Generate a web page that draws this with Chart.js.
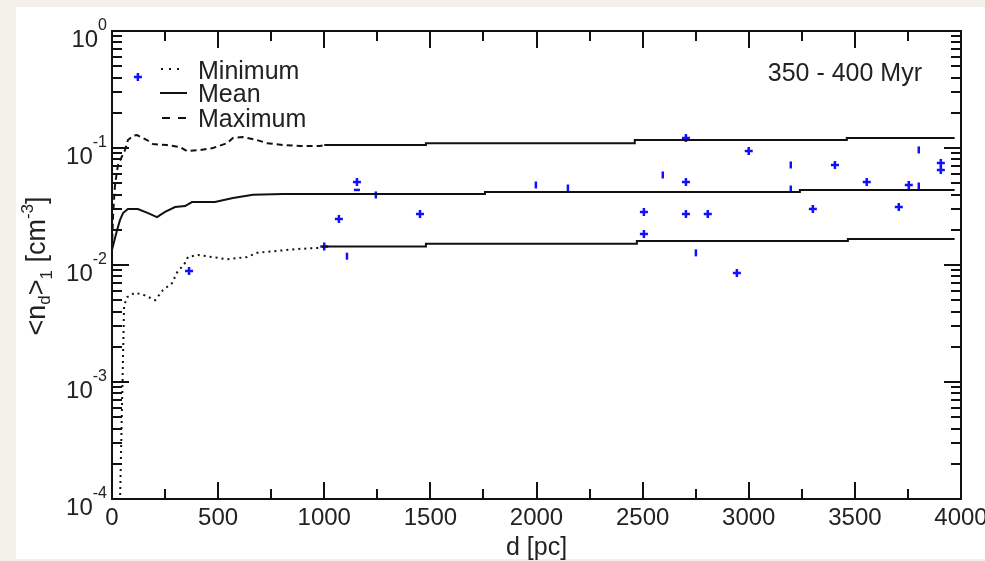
<!DOCTYPE html>
<html>
<head>
<meta charset="utf-8">
<script src="https://cdn.jsdelivr.net/npm/chart.js@4"></script>
<style>
  html, body { margin: 0; padding: 0; background: #f3f0ea; }
  canvas { display: block; }
</style>
</head>
<body>
<canvas id="grafico" width="985" height="561"></canvas>
<script>
// ── DATOS ─────────────────────────────────────────────────

// distancia d [pc] y densidad <n_d>_1 [cm^-3] de las tres curvas
const minD  = [0, 38, 57, 71, 108, 155, 203, 240, 283, 306, 344, 358, 405, 471, 542, 636, 683, 777, 871, 980, 1000, 1479, 1479, 2473, 2473, 3467, 3467, 3970];
const minN  = [0.00008, 0.0001, 0.0045, 0.0053, 0.0058, 0.0055, 0.0050, 0.0061, 0.0070, 0.0086, 0.0104, 0.0117, 0.0122, 0.0117, 0.0112, 0.0117, 0.0127, 0.0132, 0.0137, 0.0140, 0.0144, 0.0144, 0.0152, 0.0152, 0.0160, 0.0160, 0.0167, 0.0167];

const meanD = [0, 24, 38, 52, 75, 122, 170, 212, 250, 297, 344, 377, 485, 570, 664, 805, 1757, 1757, 3241, 3241, 3970];
const meanN = [0.0135, 0.0199, 0.0243, 0.0278, 0.0301, 0.0301, 0.0278, 0.0257, 0.0284, 0.0313, 0.0319, 0.0345, 0.0345, 0.0374, 0.0398, 0.0404, 0.0404, 0.0421, 0.0421, 0.0438, 0.0438];

const maxD  = [0, 5, 14, 28, 61, 75, 99, 118, 165, 193, 259, 320, 353, 415, 476, 542, 570, 617, 683, 730, 806, 886, 980, 1000, 1479, 1479, 2463, 2463, 3462, 3462, 3970];
const maxN  = [0.0135, 0.0267, 0.048, 0.0716, 0.096, 0.117, 0.127, 0.129, 0.117, 0.108, 0.106, 0.102, 0.094, 0.096, 0.100, 0.110, 0.122, 0.124, 0.117, 0.110, 0.106, 0.104, 0.104, 0.106, 0.106, 0.110, 0.110, 0.117, 0.117, 0.122, 0.122];

// estrellas (marcas "+")
const crossD = [122, 363, 1000, 1069, 1154, 1451, 2506, 2506, 2704, 2704, 2704, 2807, 2944, 3000, 3302, 3406, 3556, 3707, 3754, 3905, 3905];
const crossN = [0.404, 0.0089, 0.0144, 0.0247, 0.0512, 0.0273, 0.0284, 0.0184, 0.1217, 0.0512, 0.0273, 0.0273, 0.00855, 0.0942, 0.0301, 0.0716, 0.0512, 0.0313, 0.0483, 0.0744, 0.0649];

// estrellas (marcas "|")
const barD = [1107, 1243, 1997, 2148, 2595, 2751, 3198, 3198, 3801, 3801];
const barN = [0.0119, 0.0397, 0.0483, 0.0455, 0.0588, 0.0127, 0.0716, 0.0446, 0.0962, 0.0473];

// marca "-"
const dashD = [1154];
const dashN = [0.0438];

// ejes
const xTicks = [0, 500, 1000, 1500, 2000, 2500, 3000, 3500, 4000];
const yTickExps = [0, -1, -2, -3, -4];
const legendLabels = ["Minimum", "Mean", "Maximum"];
const etiquetaEdad = "350 - 400 Myr";

// ── GRAFICO ───────────────────────────────────────────────

const FONT = '"Liberation Sans", Arial, sans-serif';
const AZUL = "#1010ff";
const NEGRO = "#111";

const pares = (xs, ys) => xs.map((x, i) => ({ x, y: ys[i] }));

function textoRico(ctx, partes, x, y, align) {
  let total = 0;
  partes.forEach(p => {
    ctx.font = p.size + "px " + FONT;
    p.w = ctx.measureText(p.t).width;
    total += p.w;
  });
  let cx = align === "right" ? x - total : align === "center" ? x - total / 2 : x;
  ctx.textAlign = "left";
  partes.forEach(p => {
    ctx.font = p.size + "px " + FONT;
    ctx.fillText(p.t, cx, y + (p.dy || 0));
    cx += p.w;
  });
}

const marcoPlugin = {
  id: "marco",
  beforeDraw(chart) {
    const ctx = chart.ctx;
    ctx.save();
    ctx.fillStyle = "#ffffff";
    ctx.fillRect(16, 7, 985 - 16, 559 - 7);
    ctx.restore();
  },
  afterDraw(chart) {
    const ctx = chart.ctx;
    const { left, right, top, bottom } = chart.chartArea;
    const sx = chart.scales.x, sy = chart.scales.y;
    ctx.save();
    ctx.strokeStyle = NEGRO;
    ctx.lineWidth = 2;

    // marco
    ctx.strokeRect(left, top, right - left, bottom - top);

    // ticks x (hacia dentro, abajo y arriba)
    ctx.beginPath();
    for (let v = 0; v <= 4000; v += 250) {
      const px = Math.round(sx.getPixelForValue(v));
      const len = v % 500 === 0 ? 17 : 10;
      ctx.moveTo(px, bottom); ctx.lineTo(px, bottom - len);
      ctx.moveTo(px, top);    ctx.lineTo(px, top + len);
    }
    // ticks y logaritmicos
    for (let e = -4; e <= 0; e++) {
      for (let m = 1; m <= 9; m++) {
        if (e === 0 && m > 1) break;
        const py = Math.round(sy.getPixelForValue(m * Math.pow(10, e)));
        const len = m === 1 ? 17 : 10;
        ctx.moveTo(left, py);  ctx.lineTo(left + len, py);
        ctx.moveTo(right, py); ctx.lineTo(right - len, py);
      }
    }
    ctx.stroke();

    ctx.fillStyle = "#222";
    ctx.textBaseline = "alphabetic";

    // etiquetas x
    ctx.font = "24px " + FONT;
    ctx.textAlign = "center";
    xTicks.forEach(v => ctx.fillText(String(v), sx.getPixelForValue(v), 525));

    // etiquetas y: 10^e
    yTickExps.forEach(e => {
      const py = sy.getPixelForValue(Math.pow(10, e));
      textoRico(ctx, [
        { t: "10", size: 24 },
        { t: String(e), size: 16, dy: -17 },
      ], 107, py + 16, "right");
    });

    // titulo x
    ctx.font = "25px " + FONT;
    ctx.textAlign = "center";
    ctx.fillText("d [pc]", (left + right) / 2, 555);

    // titulo y
    ctx.save();
    ctx.translate(45, 266);
    ctx.rotate(-Math.PI / 2);
    textoRico(ctx, [
      { t: "<n", size: 27 },
      { t: "d", size: 17, dy: 5 },
      { t: ">", size: 27 },
      { t: "1", size: 17, dy: 7 },
      { t: " [cm", size: 27 },
      { t: "-3", size: 17, dy: -12 },
      { t: "]", size: 27 },
    ], 0, 0, "center");
    ctx.restore();

    // leyenda
    const muestras = [
      { dash: [2, 6], y: 69, x0: 161, x1: 182 },
      { dash: [], y: 93, x0: 160, x1: 187 },
      { dash: [8, 8], y: 118, x0: 162, x1: 186 },
    ];
    const bases = [79, 102, 127];
    muestras.forEach((m, i) => {
      ctx.setLineDash(m.dash);
      ctx.beginPath();
      ctx.moveTo(m.x0, m.y); ctx.lineTo(m.x1, m.y);
      ctx.stroke();
      ctx.setLineDash([]);
      ctx.font = "25px " + FONT;
      ctx.textAlign = "left";
      ctx.fillText(legendLabels[i], 198, bases[i]);
    });

    // rango de edad
    ctx.font = "25px " + FONT;
    ctx.textAlign = "right";
    ctx.fillText(etiquetaEdad, 922, 81);

    ctx.restore();
  },
};

const linea = (data, dashAntes, limite) => ({
  data,
  showLine: true,
  borderColor: NEGRO,
  borderWidth: 2,
  pointRadius: 0,
  segment: {
    borderDash: c => (c.p0.parsed.x < limite ? dashAntes : []),
  },
});

const ctx = document.getElementById("grafico").getContext("2d");
new Chart(ctx, {
  type: "scatter",
  data: {
    datasets: [
      linea(pares(minD, minN), [2, 4], 990),
      linea(pares(meanD, meanN), [], 0),
      linea(pares(maxD, maxN), [6, 4], 990),
      {
        data: pares(crossD, crossN),
        pointStyle: "cross",
        pointRadius: 4,
        pointBorderColor: AZUL,
        pointBorderWidth: 2.5,
      },
      {
        data: pares(barD, barN),
        pointStyle: "line",
        pointRotation: 90,
        pointRadius: 3.5,
        pointBorderColor: AZUL,
        pointBorderWidth: 2.5,
      },
      {
        data: pares(dashD, dashN),
        pointStyle: "line",
        pointRadius: 3,
        pointBorderColor: AZUL,
        pointBorderWidth: 2.5,
      },
    ],
  },
  options: {
    responsive: false,
    animation: false,
    devicePixelRatio: 1,
    layout: { padding: { left: 112, right: 24, top: 31, bottom: 62 } },
    plugins: { legend: { display: false }, tooltip: { enabled: false } },
    scales: {
      x: { type: "linear", min: 0, max: 4000, display: false },
      y: { type: "logarithmic", min: 1e-4, max: 1, display: false },
    },
  },
  plugins: [marcoPlugin],
});
</script>
</body>
</html>
